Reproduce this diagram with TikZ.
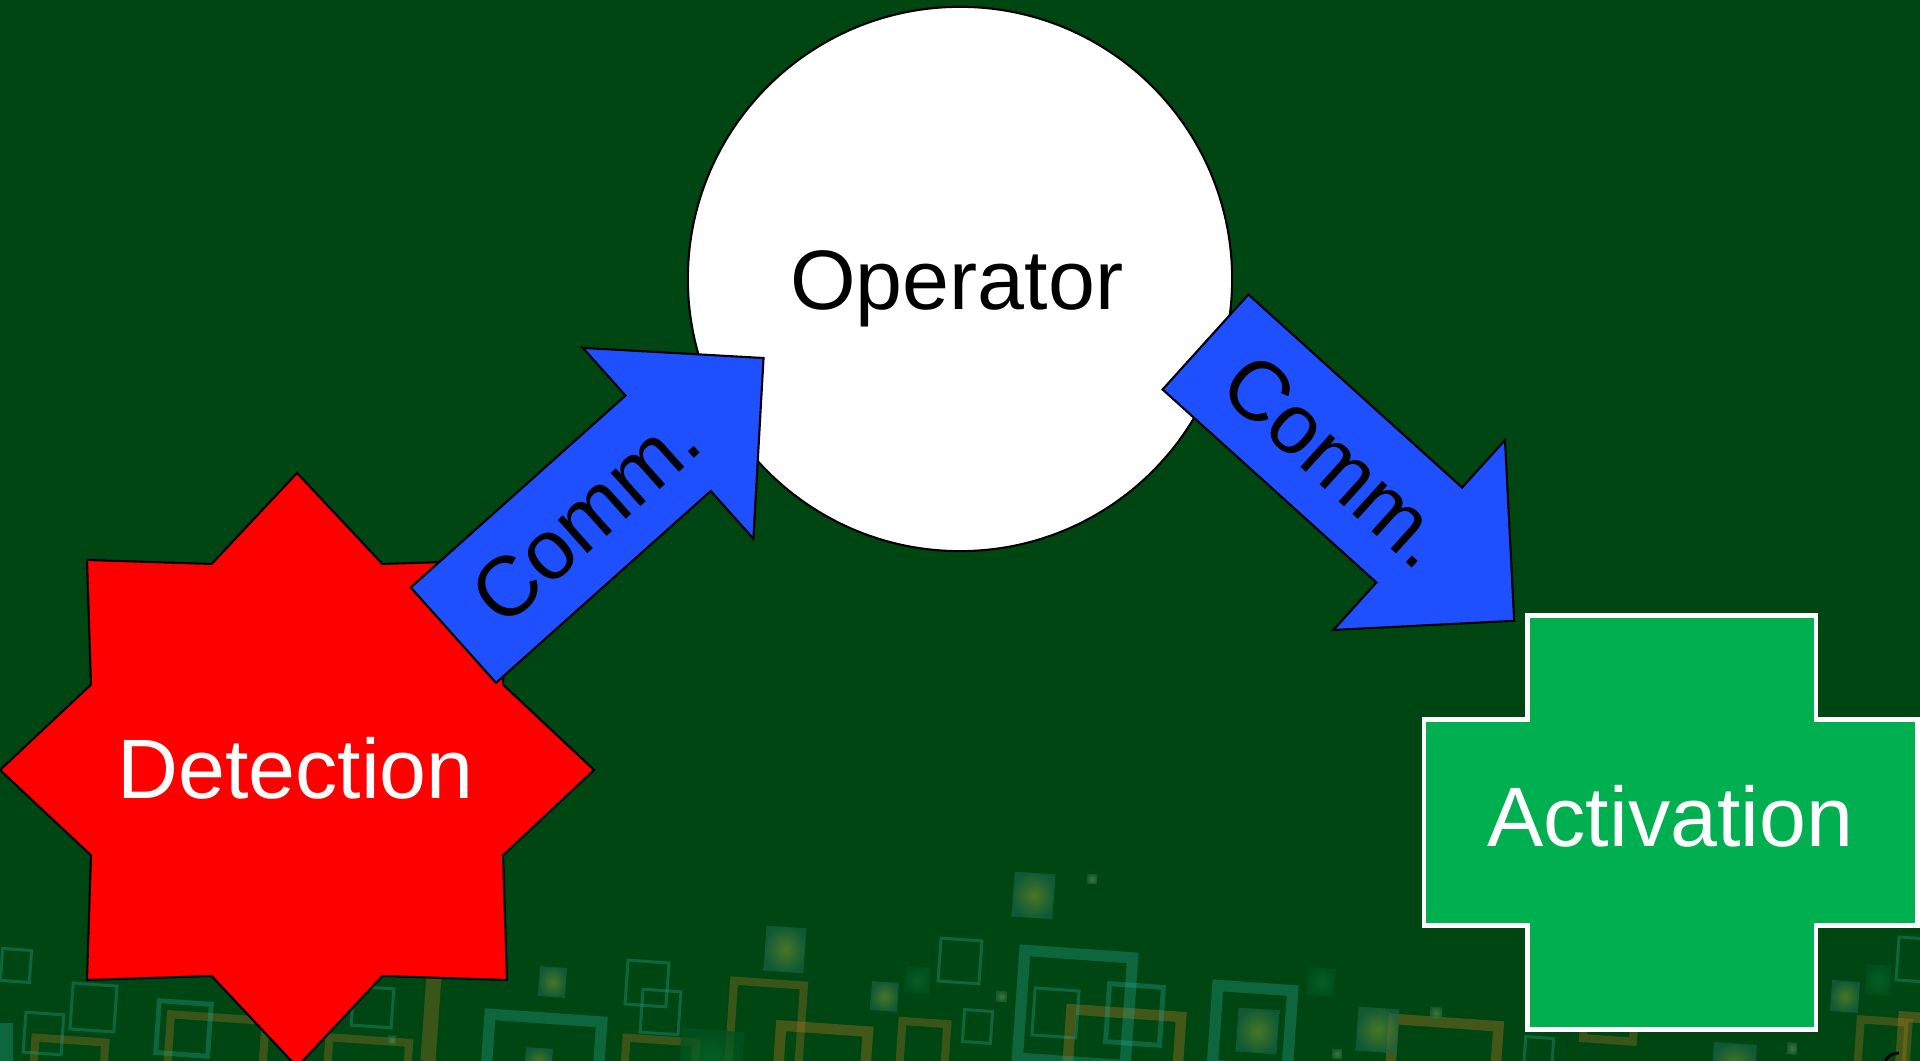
\documentclass[tikz,border=0pt]{standalone}
\usepackage{fontspec}
\setmainfont{Liberation Sans}
\definecolor{bg}{RGB}{0,70,19}
\definecolor{tealdeco}{RGB}{40,170,150}
\definecolor{olivedeco}{RGB}{190,120,35}
\definecolor{glowin}{RGB}{110,145,45}
\definecolor{glowout}{RGB}{25,100,75}
\definecolor{darkin}{RGB}{10,105,45}
\definecolor{darkout}{RGB}{0,82,32}
\definecolor{arrowblue}{RGB}{30,80,255}
\definecolor{crossgreen}{RGB}{0,176,80}
\tikzset{
  tsq/.style={draw=tealdeco, draw opacity=0.33, line width=0.85pt},
  tsqmid/.style={draw=tealdeco, draw opacity=0.33, line width=1.4pt},
  tsqthick/.style={draw=tealdeco, draw opacity=0.33, line width=3.2pt},
  osq/.style={draw=olivedeco, draw opacity=0.3, line width=2.3pt},
  osqthick/.style={draw=olivedeco, draw opacity=0.35, line width=3pt},
  glowsq/.style={inner color=glowin, outer color=glowout, opacity=0.65},
  darksq/.style={inner color=darkin, outer color=darkout, opacity=0.7},
  shapeline/.style={draw=black, line width=0.6pt},
  commarrow/.style={shapeline, fill=arrowblue},
  bigtext/.style={font=\fontsize{24}{28}\selectfont, inner sep=0pt},
}
\newcommand{\dsq}[5]{\path[#1, shift={(#2,#3)}, rotate=-4] (-#4/2,-#5/2) rectangle (#4/2,#5/2);}
\newcommand{\gsq}[5]{\shade[#1, shift={(#2,#3)}, rotate=-4] (-#4/2,-#5/2) rectangle (#4/2,#5/2);}
\begin{document}
\begin{tikzpicture}[x=0.01cm, y=0.01cm]
\useasboundingbox (0,0) rectangle (1920,1061);
\fill[bg] (0,0) rectangle (1920,1061);
\begin{scope}
\clip (0,0) rectangle (1920,1061);
% ---- background decoration ----
\fill[tealdeco, opacity=0.33] (0,0) rectangle (13,38);
\draw[osq, line width=4.3pt] (434,86) -- (428,0);
\dsq{osq}{68}{-14}{70}{70}
\dsq{osq}{215}{-4}{95}{95}
\dsq{osq}{366.5}{-19}{80}{80}
\dsq{osq}{659}{-14}{70}{70}
\dsq{osq}{766}{34}{70}{88}
\dsq{osqthick}{821.5}{-11}{87}{87}
\dsq{osq}{923}{11}{45}{55}
\dsq{osqthick}{1122.5}{-7}{110}{110}
\dsq{osqthick}{1442.5}{-14}{105}{105}
\dsq{osq}{1610}{51}{50}{60}
\dsq{osq}{1883}{16}{48}{48}
\dsq{osqthick}{1950}{-9}{100}{100}
\dsq{tsq}{16}{95.5}{29}{32}
\dsq{tsq}{93.5}{53.5}{44}{46}
\dsq{tsq}{43.5}{27.5}{38}{40}
\dsq{tsqmid}{183.5}{32.5}{52}{52}
\dsq{tsq}{372.5}{54}{40}{39}
\dsq{tsqthick}{542}{-13}{112}{112}
\dsq{tsq}{647}{77.5}{41}{44}
\dsq{tsq}{660.5}{49}{38}{43}
\dsq{tsq}{960}{100}{41}{43}
\dsq{tsq}{977.5}{34.5}{28}{32}
\dsq{tsqthick}{1075}{53}{108}{108}
\dsq{tsq}{1055.5}{48}{44}{47}
\dsq{tsqmid}{1134.5}{46.5}{54}{58}
\dsq{tsqthick}{1252.5}{33}{75}{80}
\dsq{tsq}{1920}{101}{45}{43}
\dsq{tsq}{1538.5}{6}{28}{35}
\gsq{glowsq}{552.5}{79}{27}{30}
\gsq{glowsq}{785}{111.5}{40}{45}
\gsq{glowsq}{884.5}{64.5}{27}{29}
\gsq{darksq}{917.5}{81}{25}{26}
\gsq{glowsq}{538.5}{-1}{27}{28}
\gsq{glowsq}{1033.5}{165.5}{41}{45}
\gsq{glowsq}{1092}{182}{10}{10}
\gsq{glowsq}{1001.5}{64.5}{11}{11}
\gsq{glowsq}{1257.5}{30}{41}{44}
\gsq{darksq}{1321.5}{79}{27}{28}
\gsq{glowsq}{1377.5}{31}{41}{44}
\gsq{glowsq}{1436}{48}{12}{12}
\gsq{glowsq}{1337}{7}{10}{10}
\gsq{glowsq}{1845}{64.5}{28}{31}
\gsq{darksq}{1878.5}{81}{25}{30}
\gsq{glowsq}{1792}{12.5}{10}{12}
\gsq{glowsq}{1734}{-4}{43}{43}
\gsq{darksq}{711}{1}{63}{60}
\gsq{glowsq}{392}{21}{9}{9}
% ---- Detection star ----
\draw[shapeline, fill=red, shift={(297,291)}] (90:297)
  \foreach \a in {0,45,...,315}{ -- ({\a+112.5}:223) -- ({\a+135}:297) } -- cycle;
\node[bigtext, text=white, anchor=base] (detection) at (295.6,262) {Detection};
% ---- Operator circle ----
\node[shapeline, fill=white, circle, minimum size=5.44cm, inner sep=0pt] (opcircle) at (960,782) {};
\node[bigtext, text=black, anchor=base] (operator) at (956.6,751) {Operator};
% ---- Comm. arrows ----
\begin{scope}[shift={(453.35,425.8)}, rotate=41.78]
  \draw[commarrow] (0,-64) -- (288,-64) -- (288,-128) -- (416,0) -- (288,128) -- (288,64) -- (0,64) -- cycle;
  \node[bigtext, text=black, rotate=41.78] (comm1) at (177,0) {Comm.};
\end{scope}
\begin{scope}[shift={(1205.5,719)}, rotate=-42.09]
  \draw[commarrow] (0,-64) -- (288,-64) -- (288,-128) -- (416,0) -- (288,128) -- (288,64) -- (0,64) -- cycle;
  \node[bigtext, text=black, rotate=-42.09] (comm2) at (177,0) {Comm.};
\end{scope}
% ---- Activation cross ----
\draw[draw=white, fill=crossgreen, line width=1.28pt]
  (1527.5,445.5) -- (1816.2,445.5) -- (1816.2,341.5) -- (1917.5,341.5) -- (1917.5,135.5)
  -- (1816.2,135.5) -- (1816.2,31.5) -- (1527.5,31.5) -- (1527.5,135.5) -- (1423.8,135.5)
  -- (1423.8,341.5) -- (1527.5,341.5) -- cycle;
\node[bigtext, text=white, anchor=base] (activation) at (1670.3,214) {Activation};
% ---- cut-off shape at bottom right ----
\draw[black, line width=0.8pt] (1885,0) .. controls (1888,5) and (1892,7.5) .. (1899,8);
\end{scope}
\end{tikzpicture}
\end{document}
